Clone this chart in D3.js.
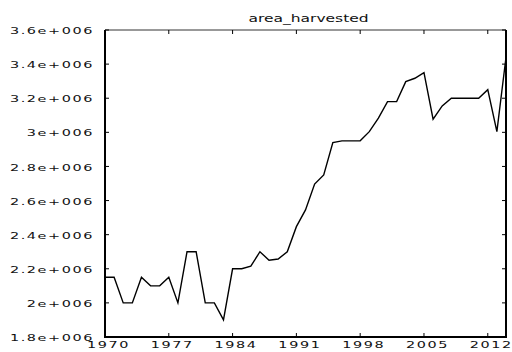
<!DOCTYPE html>
<html>
<head>
<meta charset="utf-8">
<script src="https://cdn.jsdelivr.net/npm/d3@7"></script>
<style>
  html, body { margin: 0; padding: 0; background: #fff; }
  svg { display: block; }
  text { font-family: "DejaVu Sans", sans-serif; fill: #111; }
</style>
</head>
<body>
<svg id="chart" width="512" height="352"></svg>
<script>
// Area harvested per year
const years = d3.range(1970, 2015);
const areaHarvested = [
  2150000, 2150000, 2000000, 2000000, 2150000, 2100000, 2100000, 2150000, 2000000, 2300000,
  2300000, 2000000, 2000000, 1900000, 2200000, 2200000, 2215000, 2300000, 2250000, 2257000,
  2300000, 2447000, 2545000, 2697000, 2750000, 2940000, 2950000, 2950000, 2950000, 3004000,
  3083000, 3180000, 3180000, 3297000, 3317000, 3350000, 3077000, 3155000, 3200000, 3200000,
  3200000, 3200000, 3250000, 3004000, 3440000
];
const xTicks = [1970, 1977, 1984, 1991, 1998, 2005, 2012];
const yTicks = [1800000, 2000000, 2200000, 2400000, 2600000, 2800000, 3000000, 3200000, 3400000, 3600000];
const chartTitle = "area_harvested";

const plotL = 105, plotR = 506, plotT = 30, plotB = 337;
const sx = 1.6; // horizontal stretch of the label glyphs

const svg = d3.select("#chart");
const x = d3.scaleLinear().domain([1970, 2014]).range([plotL, plotR]);
const y = d3.scaleLinear().domain([1800000, 3600000]).range([plotB, plotT]);

// "3.6e+006" style labels
const fmtY = v => {
  const m = Math.round(v / 1e5) / 10;
  return String(m) + "e+006";
};

// Frame: thin top, heavier left/right/bottom
svg.append("line").attr("x1", plotL).attr("x2", plotR).attr("y1", plotT).attr("y2", plotT)
  .attr("stroke", "#333").attr("stroke-width", 1);
svg.append("line").attr("x1", plotL).attr("x2", plotR).attr("y1", plotB).attr("y2", plotB)
  .attr("stroke", "#000").attr("stroke-width", 2);
svg.append("line").attr("x1", plotL).attr("x2", plotL).attr("y1", plotT).attr("y2", plotB + 1)
  .attr("stroke", "#000").attr("stroke-width", 2);
svg.append("line").attr("x1", plotR).attr("x2", plotR).attr("y1", plotT).attr("y2", plotB + 1)
  .attr("stroke", "#000").attr("stroke-width", 2);

// Inward ticks on all four sides
const tickLen = 4;
const gTicks = svg.append("g").attr("stroke", "#000").attr("stroke-width", 1);
xTicks.forEach(t => {
  gTicks.append("line").attr("x1", x(t)).attr("x2", x(t)).attr("y1", plotB).attr("y2", plotB - tickLen);
  gTicks.append("line").attr("x1", x(t)).attr("x2", x(t)).attr("y1", plotT).attr("y2", plotT + tickLen);
});
yTicks.forEach(t => {
  gTicks.append("line").attr("x1", plotL).attr("x2", plotL + tickLen).attr("y1", y(t)).attr("y2", y(t));
  gTicks.append("line").attr("x1", plotR).attr("x2", plotR - tickLen).attr("y1", y(t)).attr("y2", y(t));
});

// Y axis labels
const yAxis = d3.axisLeft(y).tickValues(yTicks).tickFormat(fmtY).tickSize(0).tickPadding(0);
const gy = svg.append("g").attr("transform", `translate(${plotL},0)`).call(yAxis);
gy.select(".domain").remove();
gy.selectAll("text")
  .attr("font-size", 9)
  .attr("font-family", "DejaVu Sans")
  .attr("letter-spacing", 1)
  .attr("fill", "#111")
  .attr("x", -11 / sx)
  .attr("dy", "0.4em")
  .attr("transform", `scale(${sx},1)`);

// X axis labels
const xAxis = d3.axisBottom(x).tickValues(xTicks).tickFormat(d3.format("d")).tickSize(0).tickPadding(0);
const gx = svg.append("g").attr("transform", `translate(0,${plotB})`).call(xAxis);
gx.select(".domain").remove();
gx.selectAll("text")
  .attr("font-size", 9)
  .attr("font-family", "DejaVu Sans")
  .attr("letter-spacing", 1)
  .attr("fill", "#111")
  .attr("y", 5)
  .attr("dy", "0.71em")
  .attr("x", 3 / sx)
  .attr("transform", `scale(${sx},1)`);

// Title
svg.append("text")
  .attr("transform", `translate(${(plotL + plotR) / 2 + 3},22) scale(1.55,1)`)
  .attr("text-anchor", "middle")
  .attr("font-size", 10)
  .text(chartTitle);

// Series line
const line = d3.line().x((d, i) => x(years[i])).y(d => y(d));
svg.append("path")
  .datum(areaHarvested)
  .attr("fill", "none")
  .attr("stroke", "#000")
  .attr("stroke-width", 1.4)
  .attr("stroke-linejoin", "miter")
  .attr("d", line);
</script>
</body>
</html>
